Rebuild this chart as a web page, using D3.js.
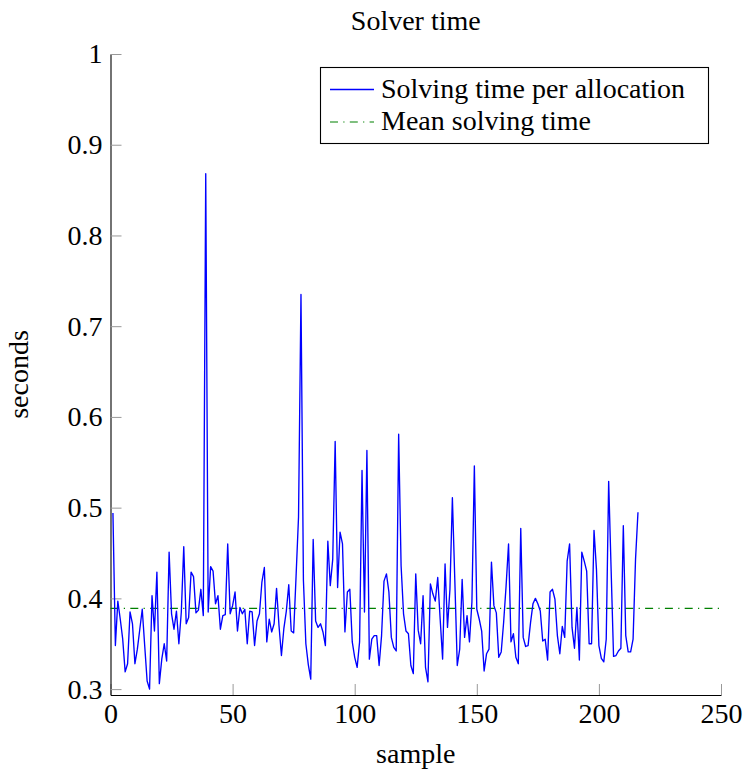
<!DOCTYPE html>
<html>
<head>
<meta charset="utf-8">
<script src="https://cdn.jsdelivr.net/npm/d3@7"></script>
<style>
  body { margin: 0; background: #fff; }
  text { font-family: "Liberation Serif", "Times New Roman", serif; fill: #000; }
</style>
</head>
<body>
<svg id="chart" width="744" height="774"></svg>
<script>
// Solver time per allocation, one value per sample (seconds), samples 1..216
const solveTimes = [
  0.494, 0.348, 0.397, 0.377, 0.355, 0.319, 0.328, 0.385, 0.372, 0.328,
  0.344, 0.366, 0.388, 0.348, 0.309, 0.300, 0.403, 0.364, 0.429, 0.306,
  0.333, 0.350, 0.331, 0.451, 0.383, 0.366, 0.386, 0.350, 0.385, 0.457,
  0.372, 0.379, 0.429, 0.424, 0.384, 0.387, 0.410, 0.381, 0.868, 0.385,
  0.435, 0.430, 0.394, 0.403, 0.366, 0.381, 0.382, 0.460, 0.383, 0.392,
  0.407, 0.364, 0.390, 0.383, 0.388, 0.350, 0.386, 0.385, 0.348, 0.375,
  0.383, 0.418, 0.434, 0.352, 0.377, 0.363, 0.372, 0.411, 0.370, 0.337,
  0.367, 0.386, 0.415, 0.364, 0.362, 0.425, 0.490, 0.735, 0.420, 0.350,
  0.327, 0.311, 0.465, 0.375, 0.368, 0.372, 0.363, 0.348, 0.463, 0.414,
  0.443, 0.573, 0.412, 0.473, 0.460, 0.363, 0.407, 0.410, 0.352, 0.335,
  0.324, 0.352, 0.541, 0.385, 0.563, 0.333, 0.355, 0.359, 0.359, 0.326,
  0.359, 0.419, 0.427, 0.407, 0.357, 0.346, 0.342, 0.581, 0.436, 0.383,
  0.364, 0.361, 0.326, 0.317, 0.427, 0.365, 0.350, 0.403, 0.324, 0.308,
  0.416, 0.405, 0.397, 0.423, 0.377, 0.333, 0.438, 0.368, 0.410, 0.511,
  0.420, 0.326, 0.344, 0.421, 0.357, 0.381, 0.352, 0.396, 0.546, 0.388,
  0.377, 0.364, 0.320, 0.339, 0.344, 0.440, 0.392, 0.384, 0.335, 0.341,
  0.374, 0.414, 0.460, 0.352, 0.361, 0.335, 0.328, 0.477, 0.357, 0.347,
  0.348, 0.373, 0.394, 0.400, 0.394, 0.386, 0.353, 0.355, 0.332, 0.407,
  0.410, 0.399, 0.359, 0.339, 0.369, 0.357, 0.441, 0.460, 0.368, 0.345,
  0.390, 0.332, 0.451, 0.441, 0.430, 0.350, 0.350, 0.475, 0.432, 0.348,
  0.334, 0.330, 0.355, 0.529, 0.432, 0.336, 0.337, 0.342, 0.345, 0.480,
  0.359, 0.341, 0.341, 0.355, 0.443, 0.495
];
const meanTime = 0.389;

const xTicks = [0, 50, 100, 150, 200, 250];
const yTicks = [0.3, 0.4, 0.5, 0.6, 0.7, 0.8, 0.9, 1];
const yTickLabels = ["0.3", "0.4", "0.5", "0.6", "0.7", "0.8", "0.9", "1"];

const seriesLabels = ["Solving time per allocation", "Mean solving time"];
const titleText = "Solver time";
const xLabel = "sample";
const yLabel = "seconds";

const svg = d3.select("#chart");
const FS = 28;

const x = d3.scaleLinear().domain([0, 250]).range([110.5, 721]);
const y = d3.scaleLinear().domain([0.2935, 1]).range([695, 54]);

// axes: only left and bottom lines, ticks pointing inward
const xAxis = d3.axisBottom(x)
  .tickValues(xTicks)
  .tickFormat(d3.format("d"))
  .tickSizeInner(-11)
  .tickSizeOuter(0)
  .tickPadding(8);
const yAxis = d3.axisLeft(y)
  .tickValues(yTicks)
  .tickFormat((d, i) => yTickLabels[i])
  .tickSizeInner(-11)
  .tickSizeOuter(0)
  .tickPadding(8);

const gx = svg.append("g").attr("transform", `translate(0,${y.range()[0]})`).call(xAxis);
const gy = svg.append("g").attr("transform", `translate(${x.range()[0]},0)`).call(yAxis);

[gx, gy].forEach(g => {
  g.select(".domain").attr("stroke", "#000").attr("stroke-width", 1.1);
  g.selectAll(".tick line").attr("stroke", "#999").attr("stroke-width", 1);
  g.selectAll(".tick text")
    .attr("font-family", "Liberation Serif, serif")
    .attr("font-size", FS)
    .attr("fill", "#000");
});
gy.selectAll(".tick text").attr("dy", "0.32em");

// mean line, dash-dotted
svg.append("line")
  .attr("x1", x(0)).attr("x2", x(250))
  .attr("y1", y(meanTime)).attr("y2", y(meanTime))
  .attr("stroke", "#008000")
  .attr("stroke-width", 1.2)
  .attr("stroke-dasharray", "8,5.3,1.2,5.3");

// per-sample solve time
const line = d3.line()
  .x((d, i) => x(i + 1))
  .y(d => y(d));
svg.append("path")
  .datum(solveTimes)
  .attr("fill", "none")
  .attr("stroke", "#0000ff")
  .attr("stroke-width", 1.35)
  .attr("stroke-linejoin", "round")
  .attr("d", line);

// title and axis labels
svg.append("text")
  .attr("x", (x.range()[0] + x.range()[1]) / 2)
  .attr("y", 29.5)
  .attr("text-anchor", "middle")
  .attr("font-size", FS)
  .text(titleText);

svg.append("text")
  .attr("x", (x.range()[0] + x.range()[1]) / 2)
  .attr("y", 763)
  .attr("text-anchor", "middle")
  .attr("font-size", FS)
  .text(xLabel);

svg.append("text")
  .attr("transform", `translate(28,${(y.range()[0] + y.range()[1]) / 2}) rotate(-90)`)
  .attr("text-anchor", "middle")
  .attr("font-size", FS)
  .text(yLabel);

// legend
const legend = svg.append("g");
legend.append("rect")
  .attr("x", 320.5).attr("y", 67.5)
  .attr("width", 388).attr("height", 76)
  .attr("fill", "#fff")
  .attr("stroke", "#000")
  .attr("stroke-width", 1.1);

const legendRows = [
  { label: seriesLabels[0], color: "#0000ff", dash: null, cy: 89.5, base: 97.7 },
  { label: seriesLabels[1], color: "#008000", dash: "8,5.3,1.2,5.3", cy: 122, base: 130.2 }
];
legendRows.forEach(r => {
  const l = legend.append("line")
    .attr("x1", 330).attr("x2", 374)
    .attr("y1", r.cy).attr("y2", r.cy)
    .attr("stroke", r.color)
    .attr("stroke-width", r.dash ? 1.2 : 1.35);
  if (r.dash) l.attr("stroke-dasharray", r.dash);
  legend.append("text")
    .attr("x", 381)
    .attr("y", r.base)
    .attr("font-size", FS)
    .text(r.label);
});
</script>
</body>
</html>
